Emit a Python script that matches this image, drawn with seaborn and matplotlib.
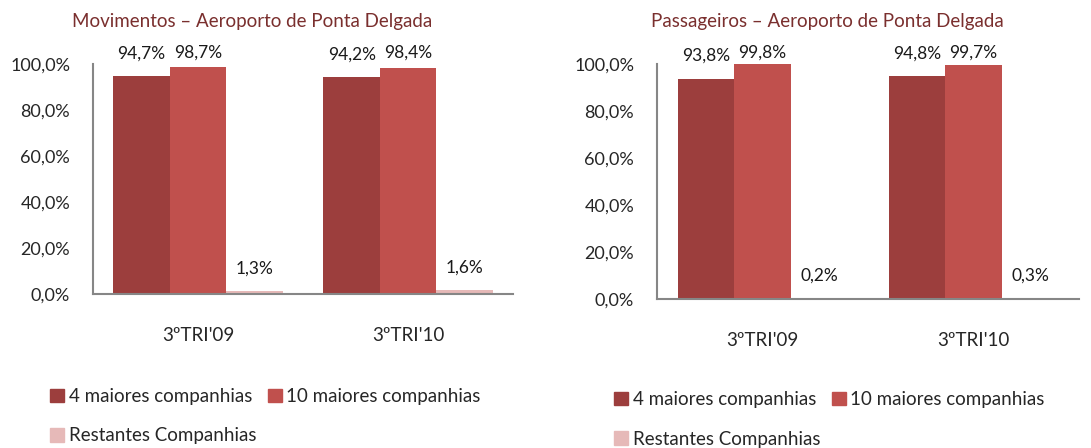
import pandas as pd
import seaborn as sns
import matplotlib.pyplot as plt
from matplotlib.patches import Patch

# data
periods = ["3ºTRI'09", "3ºTRI'10"]
series = ["4 maiores companhias", "10 maiores companhias", "Restantes Companhias"]
mov_4 = [0.947, 0.942]
mov_10 = [0.987, 0.984]
mov_rest = [0.013, 0.016]
pax_4 = [0.938, 0.948]
pax_10 = [0.998, 0.997]
pax_rest = [0.002, 0.003]

colors = ["#9C3E3D", "#C0504D", "#E6B9B8"]
title_color = "#7A2F2E"

sns.set_style("white")
plt.rcParams['font.family'] = ['Lato', 'DejaVu Sans']


def make_df(a, b, c):
    rows = []
    for s, vals in zip(series, [a, b, c]):
        for p, v in zip(periods, vals):
            rows.append({'periodo': p, 'serie': s, 'valor': v})
    return pd.DataFrame(rows)


def fmt(v):
    return f"{v*100:.1f}%".replace('.', ',')


def draw(ax, df, leg_pos):
    sns.barplot(data=df, x='periodo', y='valor', hue='serie', hue_order=series,
                palette=colors, width=0.805, saturation=1, legend=False,
                edgecolor='none', ax=ax)
    ax.set_ylim(0, 1.0)
    ax.set_xlim(-0.5, 1.5)
    ax.set_yticks([0, 0.2, 0.4, 0.6, 0.8, 1.0])
    ax.set_yticklabels([fmt(t) for t in ax.get_yticks()])
    ax.tick_params(axis='y', length=0, pad=16.5, labelsize=13)
    ax.tick_params(axis='x', length=0, pad=24, labelsize=13.5)
    ax.set_xlabel('')
    ax.set_ylabel('')
    for side in ['top', 'right']:
        ax.spines[side].set_visible(False)
    for side in ['left', 'bottom']:
        ax.spines[side].set_color('#868686')
        ax.spines[side].set_linewidth(1.5)
    # labels sit above the bar, but never above the chart area
    for cont in ax.containers:
        for bar in cont:
            h = bar.get_height()
            ax.text(bar.get_x() + bar.get_width() / 2, min(h + 0.098, 1.05),
                    fmt(h), ha='center', va='center', fontsize=12.5,
                    color='#1a1a1a', clip_on=False)
    handles = [Patch(color=c) for c in colors]
    order = [0, 2, 1]
    ax.legend([handles[i] for i in order], [series[i] for i in order],
              ncol=2, loc='upper left', bbox_to_anchor=leg_pos,
              frameon=False, fontsize=13.5, handlelength=0.75, handleheight=0.75,
              handletextpad=0.25, columnspacing=0.6, labelspacing=1.2,
              borderaxespad=0, borderpad=0)


fig = plt.figure(figsize=(10.91, 4.48), dpi=100)
W, H = 1091, 448
ax1 = fig.add_axes([93 / W, (H - 294) / H, 420 / W, 230 / H])
ax2 = fig.add_axes([657 / W, (H - 299) / H, 422 / W, 235 / H])

draw(ax1, make_df(mov_4, mov_10, mov_rest), (-43 / 420, -(388 - 294) / 230))
draw(ax2, make_df(pax_4, pax_10, pax_rest), (-43 / 422, -(391 - 299) / 235))

fig.text(252 / W, 1 - 22 / H, "Movimentos – Aeroporto de Ponta Delgada",
         ha='center', va='center', color=title_color, fontsize=13.5)
fig.text(827 / W, 1 - 22 / H, "Passageiros – Aeroporto de Ponta Delgada",
         ha='center', va='center', color=title_color, fontsize=13.5)

fig.savefig('out.png', dpi=100)
